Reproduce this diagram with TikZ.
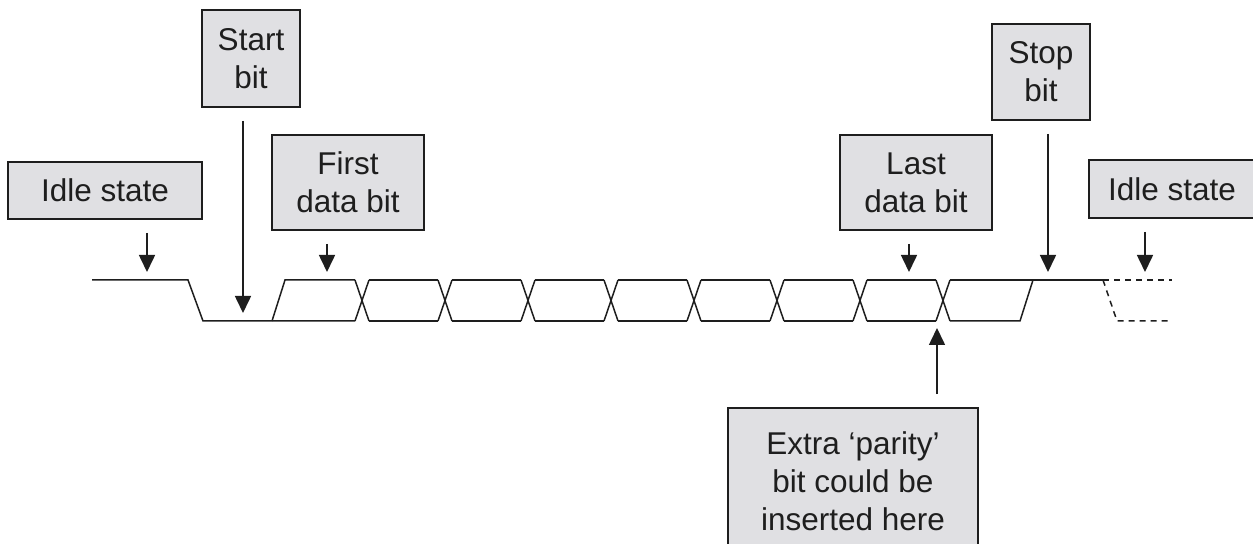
\documentclass[tikz,border=0pt]{standalone}
\usepackage{fontspec}
\setmainfont{Liberation Sans}
\usetikzlibrary{arrows.meta}
\definecolor{boxfill}{RGB}{224,224,227}
\definecolor{ink}{RGB}{30,30,30}
\tikzset{
  label box/.style={draw=ink, line width=0.9pt, fill=boxfill, align=center,
    inner sep=0pt, text=ink, font=\fontsize{15.75}{19}\selectfont},
  pointer/.style={draw=ink, line width=0.8pt, shorten <=6.5pt,
    -{Triangle[width=8pt,length=8.5pt]}},
  wave/.style={draw=ink, line width=0.75pt, line join=miter},
  wave dashed/.style={wave, dash pattern=on 3pt off 2.5pt},
}
\begin{document}
\begin{tikzpicture}[x=0.5pt,y=-0.5pt]
\useasboundingbox (0,0) rectangle (1253,544);

% labels
\node[label box, minimum width=97pt, minimum height=28.5pt] (idleL) at (105,190.5) {Idle state};
\node[label box, minimum width=49pt, minimum height=48.5pt] (start) at (251,58.5) {Start\\bit};
\node[label box, minimum width=76pt, minimum height=47.5pt] (first) at (348,182.5) {First\\data bit};
\node[label box, minimum width=76pt, minimum height=47.5pt] (last) at (916,182.5) {Last\\data bit};
\node[label box, minimum width=49pt, minimum height=48pt] (stop) at (1041,72) {Stop\\bit};
\node[label box, minimum width=83pt, minimum height=29pt] (idleR) at (1172,189) {Idle state};
\node[label box, minimum width=125pt, minimum height=73pt] (parity) at (853,481) {Extra `parity'\\bit could be\\inserted here};

% arrow tips on the waveform
\coordinate (tIdleL) at (147,272);
\coordinate (tStart) at (243,313);
\coordinate (tFirst) at (327,272);
\coordinate (tLast)  at (909,272);
\coordinate (tStop)  at (1048,272);
\coordinate (tIdleR) at (1145,272);
\coordinate (tParity) at (937,328);

\draw[pointer] (idleL.south -| tIdleL) -- (tIdleL);
\draw[pointer] (start.south -| tStart) -- (tStart);
\draw[pointer] (first.south -| tFirst) -- (tFirst);
\draw[pointer] (last.south -| tLast) -- (tLast);
\draw[pointer] (stop.south -| tStop) -- (tStop);
\draw[pointer] (idleR.south -| tIdleR) -- (tIdleR);
\draw[pointer] (parity.north -| tParity) -- (tParity);

% waveform: idle, start bit, data bits, stop bit
\draw[wave] (92,280) -- (188,280) -- (203,321) -- (355,321);
\draw[wave] (272,321) -- (285,280) -- (355,280);
\foreach \c [remember=\c as \p (initially 0)] in {362,445,528,611,694,777,860,943} {
  \draw[wave] (\c-7,280) -- (\c+7,321);
  \draw[wave] (\c-7,321) -- (\c+7,280);
  \ifnum\p>0
    \draw[wave] (\p+7,280) -- (\c-7,280);
    \draw[wave] (\p+7,321) -- (\c-7,321);
  \fi
}
\draw[wave] (950,280) -- (1103,280);
\draw[wave] (950,321) -- (1020,321) -- (1033,280);
\draw[wave dashed] (1103,280) -- (1172,280);
\draw[wave dashed] (1103,280) -- (1117,321) -- (1170,321);
\end{tikzpicture}
\end{document}
